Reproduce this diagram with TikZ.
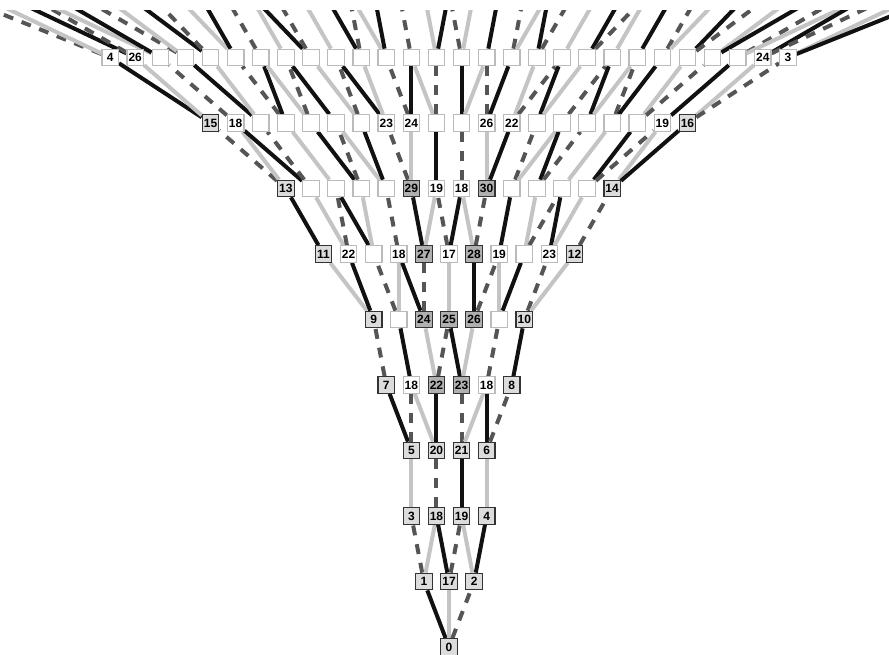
\documentclass[tikz,border=0pt]{standalone}
\usepackage{fontspec}
\setmainfont{Liberation Sans}
\usetikzlibrary{backgrounds}

\definecolor{boxlight}{HTML}{DCDCDC}
\definecolor{boxmid}{HTML}{B0B0B0}
\definecolor{boxedge}{HTML}{333333}
\definecolor{leafedge}{HTML}{BBBBBB}
\definecolor{edgeblack}{HTML}{111111}
\definecolor{edgegray}{HTML}{C4C4C4}
\definecolor{edgedash}{HTML}{555555}

\tikzset{
  box/.style={rectangle, minimum size=16.5pt, inner sep=0pt, line width=1.2pt,
    font=\bfseries\fontsize{12}{12}\selectfont},
  mbox/.style={box, fill=boxlight, draw=boxedge},
  sbox/.style={box, fill=boxmid, draw=boxedge},
  wbox/.style={box, fill=white, draw=leafedge},
  blk/.style={line width=4pt, draw=edgeblack},
  gry/.style={line width=4pt, draw=edgegray},
  dsh/.style={line width=4pt, draw=edgedash, dash pattern=on 10pt off 9pt},
}

% one row of boxes: row, count, label/style list
\newcommand{\boxrow}[3]{%
  \foreach \lab/\kind [count=\i from 0] in {#3}
    \node[\kind] (n#1-\i) at ({449+(\i-(#2-1)/2)*25.1},{647-65.5*#1}) {\lab};}

\begin{document}
\begin{tikzpicture}[x=1pt,y=-1pt]
  \useasboundingbox (0,0) rectangle (889,655);
  % boxes, bottom row first
  \boxrow{0}{1}{0/mbox}
  \boxrow{1}{3}{1/mbox,17/mbox,2/mbox}
  \boxrow{2}{4}{3/mbox,18/mbox,19/mbox,4/mbox}
  \boxrow{3}{4}{5/mbox,20/mbox,21/mbox,6/mbox}
  \boxrow{4}{6}{7/mbox,18/wbox,22/sbox,23/sbox,18/wbox,8/mbox}
  \boxrow{5}{7}{9/mbox,/wbox,24/sbox,25/sbox,26/sbox,/wbox,10/mbox}
  \boxrow{6}{11}{11/mbox,22/wbox,/wbox,18/wbox,27/sbox,17/wbox,28/sbox,19/wbox,/wbox,23/wbox,12/mbox}
  \boxrow{7}{14}{13/mbox,/wbox,/wbox,/wbox,/wbox,29/sbox,19/wbox,18/wbox,30/sbox,/wbox,/wbox,/wbox,/wbox,14/mbox}
  \boxrow{8}{20}{15/mbox,18/wbox,/wbox,/wbox,/wbox,/wbox,/wbox,23/wbox,24/wbox,/wbox,
    /wbox,26/wbox,22/wbox,/wbox,/wbox,/wbox,/wbox,/wbox,19/wbox,16/mbox}
  \boxrow{9}{28}{4/wbox,26/wbox,/wbox,/wbox,/wbox,/wbox,/wbox,/wbox,/wbox,/wbox,/wbox,/wbox,/wbox,/wbox,
    /wbox,/wbox,/wbox,/wbox,/wbox,/wbox,/wbox,/wbox,/wbox,/wbox,/wbox,/wbox,24/wbox,3/wbox}
  % ends of the links that leave the picture
  \foreach \k in {0,...,40}
    \coordinate (t-\k) at ({449+(\k-20)*25.1},-8);
  % links, row r box a to row r+1 box b
  \begin{scope}[on background layer]
    \clip (0,11) rectangle (889,655);
    \foreach \r/\a/\b/\s [evaluate=\r as \q using int(\r+1)] in {
      0/0/0/blk, 0/0/1/gry, 0/0/2/dsh,
      1/0/0/dsh, 1/0/1/gry, 1/1/1/blk, 1/1/2/dsh, 1/2/2/gry, 1/2/3/blk,
      2/0/0/gry, 2/1/1/dsh, 2/2/2/blk, 2/3/3/gry,
      3/0/0/blk, 3/0/1/dsh, 3/1/1/gry, 3/1/2/blk, 3/2/3/dsh, 3/2/4/gry, 3/3/4/blk, 3/3/5/dsh,
      4/0/0/dsh, 4/1/1/blk, 4/2/2/gry, 4/2/3/dsh, 4/3/3/blk, 4/3/4/gry, 4/4/5/dsh, 4/5/6/blk,
      5/0/0/gry, 5/0/1/blk, 5/1/2/dsh, 5/1/3/gry, 5/2/3/blk, 5/2/4/dsh, 5/3/5/gry,
      5/4/6/blk, 5/4/7/dsh, 5/5/7/gry, 5/5/8/blk, 5/6/9/dsh, 5/6/10/gry,
      6/0/0/blk, 6/1/1/gry, 6/1/2/dsh, 6/2/2/blk, 6/2/3/gry, 6/3/4/dsh, 6/4/5/blk,
      6/4/6/gry, 6/5/6/dsh, 6/5/7/blk, 6/6/7/gry, 6/6/8/dsh, 6/7/9/blk, 6/8/10/gry,
      6/8/11/dsh, 6/9/11/blk, 6/9/12/gry, 6/10/13/dsh,
      7/0/0/dsh, 7/0/1/gry, 7/1/1/blk, 7/1/2/dsh, 7/2/3/gry, 7/3/4/blk, 7/3/5/dsh,
      7/4/5/gry, 7/4/6/blk, 7/5/7/dsh, 7/5/8/gry, 7/6/9/blk, 7/7/10/dsh, 7/8/11/gry,
      7/8/12/blk, 7/9/13/dsh, 7/9/14/gry, 7/10/14/blk, 7/10/15/dsh, 7/11/16/gry,
      7/12/17/blk, 7/12/18/dsh, 7/13/18/gry, 7/13/19/blk,
      8/0/0/blk, 8/0/1/gry, 8/1/2/dsh, 8/2/3/blk, 8/2/4/gry, 8/3/5/dsh, 8/3/6/blk,
      8/4/6/gry, 8/4/7/dsh, 8/5/7/blk, 8/6/8/gry, 8/6/9/dsh, 8/7/9/blk, 8/7/10/gry,
      8/8/11/dsh, 8/8/12/blk, 8/9/12/gry, 8/9/13/dsh, 8/10/14/blk, 8/10/15/gry,
      8/11/15/dsh, 8/11/16/blk, 8/12/17/gry, 8/12/18/dsh, 8/13/18/blk, 8/13/19/gry,
      8/14/20/dsh, 8/15/20/blk, 8/15/21/gry, 8/16/21/dsh, 8/16/22/blk, 8/17/23/gry,
      8/17/24/dsh, 8/18/25/blk, 8/19/26/gry, 8/19/27/dsh}
      \draw[\s] (n\r-\a) -- (n\q-\b);
    % links out of the top row
    \foreach \a/\k/\s in {
      0/0/dsh, 0/1/gry, 1/2/blk, 1/3/dsh, 2/3/gry, 2/4/blk, 3/5/dsh, 3/6/gry,
      4/7/blk, 4/8/dsh, 5/9/gry, 5/10/blk, 6/11/dsh, 7/12/gry, 8/12/blk, 8/13/dsh,
      9/14/gry, 10/15/blk, 10/16/dsh, 11/16/gry, 11/17/blk, 12/18/dsh, 13/19/gry,
      13/20/blk, 14/20/dsh, 14/21/gry, 15/22/blk, 16/23/dsh, 16/24/gry, 17/24/blk,
      17/25/dsh, 18/26/gry, 19/27/blk, 19/28/dsh, 20/28/gry, 21/29/blk, 22/30/dsh,
      22/31/gry, 23/32/blk, 23/33/dsh, 24/34/gry, 24/35/blk, 25/36/dsh, 25/37/gry,
      26/37/blk, 26/38/dsh, 27/39/gry, 27/40/blk}
      \draw[\s] (n9-\a) -- (t-\k);
  \end{scope}
\end{tikzpicture}
\end{document}
